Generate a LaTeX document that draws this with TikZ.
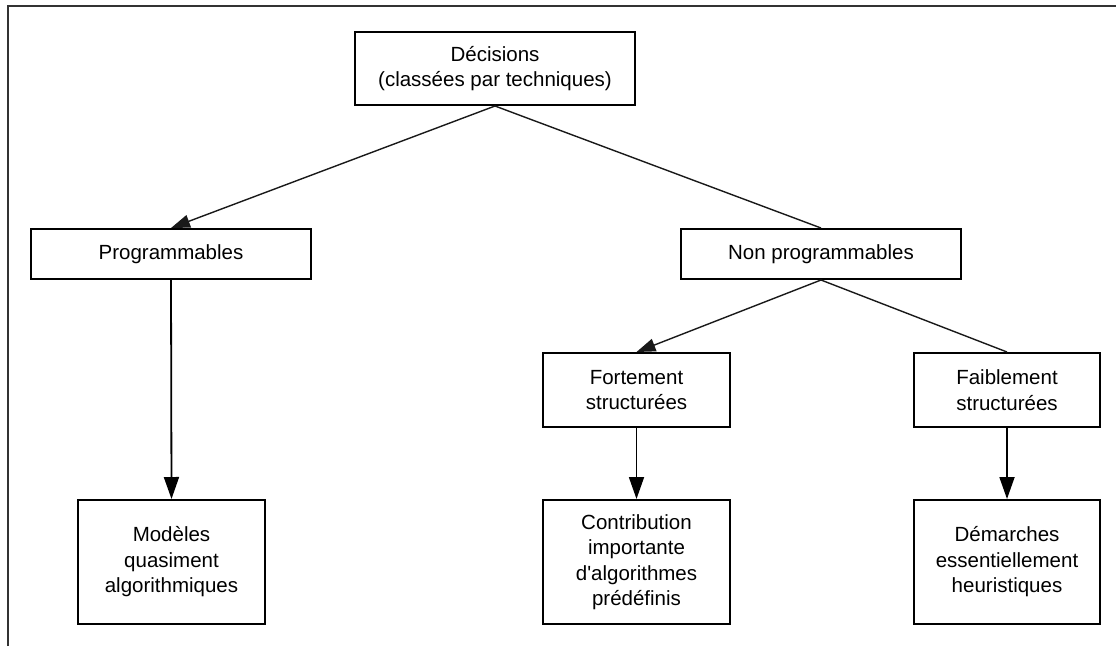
\documentclass[tikz,border=0pt]{standalone}
\usepackage{fontspec}
\setmainfont{Liberation Sans}
\usetikzlibrary{arrows.meta}
\begin{document}
\begin{tikzpicture}[x=1pt,y=-1pt,
  box/.style={draw=black, line width=2pt, inner sep=0pt, align=center,
    font=\fontsize{20.5}{25.5}\selectfont},
  link/.style={draw=black!90, line width=1.4pt},
  arrd/.style={link, -{Triangle[length=19pt,width=13pt]}},
  arrv/.style={link, draw=black, line width=1.8pt, -{Triangle[length=22pt,width=15pt]}},
  framestyle/.style={draw=black!80, line width=2.2pt}]
\useasboundingbox (0,0) rectangle (1116,646);
% outer frame (left and top edges)
\coordinate (fbl) at (8,646);
\coordinate (ftl) at (8,6);
\coordinate (ftr) at (1116,6);
\draw[framestyle] (fbl) -- (ftl) -- (ftr);

% boxes
\node[box, minimum width=280pt, minimum height=73pt] (dec) at (495,68.5)
  {Décisions\\(classées par techniques)};
\node[box, minimum width=280pt, minimum height=50pt] (prog) at (171,254)
  {Programmables};
\node[box, minimum width=280pt, minimum height=50pt] (nprog) at (821,254)
  {Non programmables};
\node[box, minimum width=187pt, minimum height=74pt] (fort) at (636.5,390)
  {Fortement\\structurées};
\node[box, minimum width=186pt, minimum height=74pt] (faib) at (1007,390)
  {Faiblement\\structurées};
\node[box, minimum width=187pt, minimum height=124pt] (mod) at (171.5,562)
  {Modèles\\quasiment\\algorithmiques};
\node[box, minimum width=187pt, minimum height=124pt] (contr) at (636.5,562)
  {Contribution\\importante\\d\textquotesingle algorithmes\\prédéfinis};
\node[box, minimum width=186pt, minimum height=124pt] (dem) at (1007,562)
  {Démarches\\essentiellement\\heuristiques};

% connectors
\draw[arrd] (dec.south) -- (prog.north);
\draw[link] (dec.south) -- (nprog.north);
\draw[arrd] (nprog.south) -- (fort.north);
\draw[link] (nprog.south) -- (faib.north);
\draw[arrv] (prog.south) -- (mod.north);
\draw[arrv] (fort.south) -- (contr.north);
\draw[arrv] (faib.south) -- (dem.north);
\end{tikzpicture}
\end{document}
